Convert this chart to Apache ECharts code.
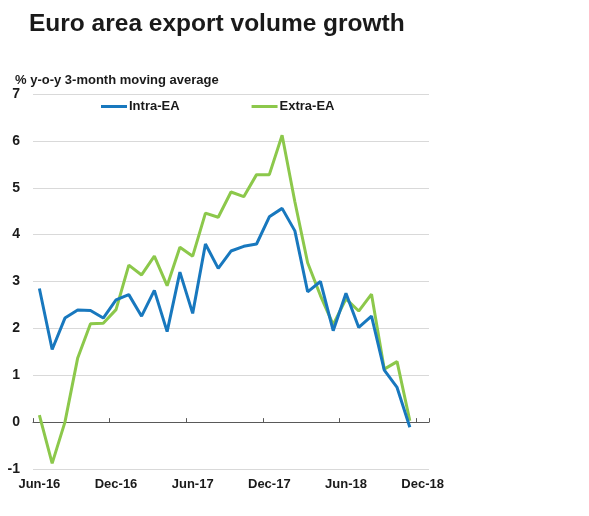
<!DOCTYPE html>
<html>
<head>
<meta charset="utf-8">
<script src="https://cdn.jsdelivr.net/npm/echarts@6/dist/echarts.min.js"></script>
<style>
  html, body { margin: 0; padding: 0; background: #fff; }
  #chart { width: 589px; height: 516px; }
</style>
</head>
<body>
<div id="chart"></div>
<script>
const MONTHS = [
  "Jun-16", "Jul-16", "Aug-16", "Sep-16", "Oct-16", "Nov-16",
  "Dec-16", "Jan-17", "Feb-17", "Mar-17", "Apr-17", "May-17",
  "Jun-17", "Jul-17", "Aug-17", "Sep-17", "Oct-17", "Nov-17",
  "Dec-17", "Jan-18", "Feb-18", "Mar-18", "Apr-18", "May-18",
  "Jun-18", "Jul-18", "Aug-18", "Sep-18", "Oct-18", "Nov-18",
  "Dec-18"
];
const INTRA_EA = [
  2.85, 1.55, 2.22, 2.39, 2.38, 2.22,
  2.61, 2.72, 2.26, 2.81, 1.93, 3.20,
  2.32, 3.80, 3.28, 3.65, 3.75, 3.80,
  4.38, 4.56, 4.08, 2.78, 3.00, 1.95,
  2.75, 2.02, 2.26, 1.11, 0.74, -0.11
];
const EXTRA_EA = [
  0.15, -0.88, 0.00, 1.37, 2.10, 2.11,
  2.40, 3.35, 3.14, 3.54, 2.91, 3.73,
  3.54, 4.46, 4.37, 4.91, 4.81, 5.28,
  5.28, 6.12, 4.70, 3.40, 2.70, 2.08,
  2.63, 2.37, 2.73, 1.13, 1.29, 0.03
];
const Y_TICKS = { min: -1, max: 7, step: 1 };

// no narrow face installed, so a slightly smaller size stands in for Arial Narrow
const FONT = "'Liberation Sans', Arial, sans-serif";
const BLUE = "#1878be";
const GREEN = "#8cc84b";

const chart = echarts.init(document.getElementById("chart"), null, { renderer: "canvas" });

const option = {
  backgroundColor: "#fff",
  animation: false,
  title: {
    text: "Euro area export volume growth",
    left: 29,
    top: 12,
    padding: 0,
    textStyle: { fontFamily: FONT, fontWeight: "bold", fontSize: 24.5, color: "#1a1a1a" }
  },
  graphic: [
    {
      type: "text",
      left: 15,
      top: 74,
      style: { text: "% y-o-y 3-month moving average", font: "bold 13px " + FONT, fill: "#1a1a1a" }
    }
  ],
  legend: {
    top: 100,
    left: 101,
    padding: 0,
    itemGap: 72,
    itemWidth: 26,
    itemHeight: 3,
    icon: "rect",
    textStyle: { fontFamily: FONT, fontWeight: "bold", fontSize: 13, color: "#1a1a1a", padding: [0, 0, 0, -3] },
    data: ["Intra-EA", "Extra-EA"]
  },
  grid: { left: 33, right: 160, top: 94, bottom: 47, containLabel: false },
  xAxis: [
    {
      type: "category",
      data: MONTHS,
      boundaryGap: true,
      axisLine: { onZero: true, lineStyle: { color: "#595959", width: 1 } },
      axisTick: { show: true, inside: true, length: 4, interval: 5, lineStyle: { color: "#595959" } },
      axisLabel: { show: false },
      splitLine: { show: false }
    },
    {
      type: "category",
      data: MONTHS,
      position: "bottom",
      boundaryGap: true,
      axisLine: { show: false, onZero: false },
      axisTick: { show: false },
      axisLabel: { interval: 5, margin: 9, fontFamily: FONT, fontWeight: "bold", fontSize: 13, color: "#1a1a1a" },
      splitLine: { show: false }
    }
  ],
  yAxis: {
    type: "value",
    min: Y_TICKS.min,
    max: Y_TICKS.max,
    interval: Y_TICKS.step,
    axisLine: { show: false },
    axisTick: { show: false },
    axisLabel: { margin: 13, fontFamily: FONT, fontWeight: "bold", fontSize: 14, color: "#1a1a1a" },
    splitLine: { lineStyle: { color: "#d9d9d9", width: 1 } }
  },
  series: [
    {
      name: "Intra-EA",
      type: "line",
      xAxisIndex: 0,
      data: INTRA_EA,
      symbol: "none",
      lineStyle: { color: BLUE, width: 3 },
      itemStyle: { color: BLUE },
      z: 3
    },
    {
      name: "Extra-EA",
      type: "line",
      xAxisIndex: 0,
      data: EXTRA_EA,
      symbol: "none",
      lineStyle: { color: GREEN, width: 3 },
      itemStyle: { color: GREEN },
      z: 2
    }
  ]
};

chart.setOption(option);
</script>
</body>
</html>
